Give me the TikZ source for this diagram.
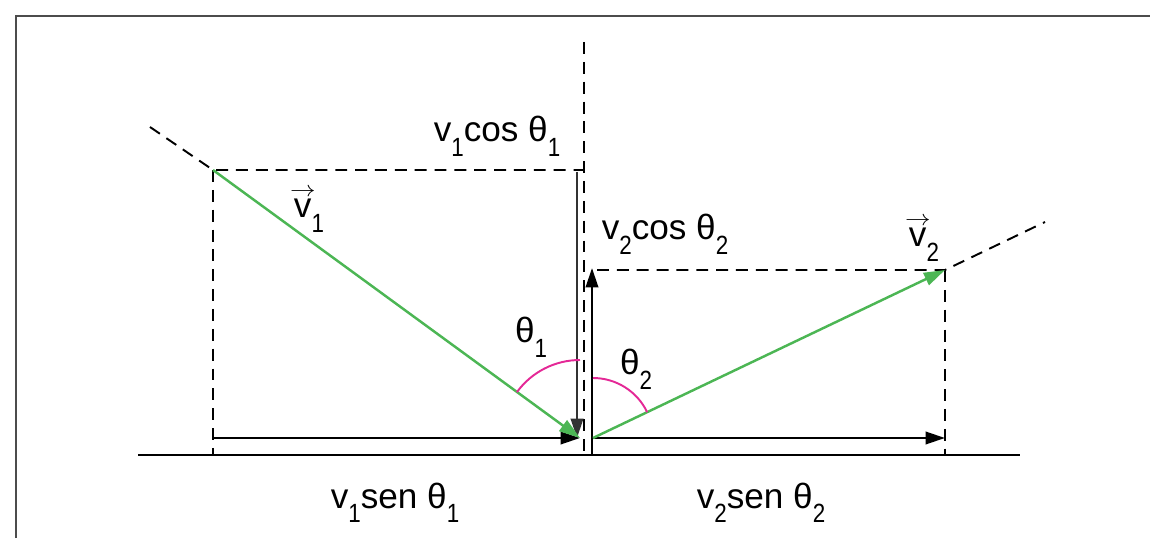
\documentclass[tikz,border=0pt]{standalone}
\usepackage{fontspec}
\setmainfont{Liberation Sans}
\usetikzlibrary{arrows.meta}

\definecolor{vecgreen}{RGB}{76,182,84}
\definecolor{anglemag}{RGB}{228,40,150}
\newcommand{\lo}[1]{\raisebox{-8pt}{\fontsize{15}{16}\selectfont\scalebox{0.85}[1]{#1}}}
\newcommand{\vecv}{\ooalign{v\cr\hidewidth\raisebox{0.6em}{\scalebox{0.7}[0.6]{$\rightarrow$}}\hidewidth\cr}}

\begin{document}
\begin{tikzpicture}[x=0.02cm,y=0.02cm,
  dashln/.style={line width=1.1pt,dash pattern=on 6.8pt off 4.5pt},
  comparr/.style={line width=1.5pt,-{Triangle[length=11pt,width=7pt]}},
  vecarr/.style={vecgreen,line width=1.4pt,-{Triangle[length=12pt,width=7.5pt]}},
  angarc/.style={anglemag,line width=1.1pt},
  lbl/.style={inner sep=0pt,anchor=base,font=\fontsize{20}{22}\selectfont}]
\useasboundingbox (0,0) rectangle (1150,538);
% frame
\draw[black!70,line width=1.7pt] (16,0) -- (16,522) -- (1150,522);

% points
\coordinate (o1) at (580,100);
\coordinate (o2) at (593,100);
\coordinate (p1) at (213,368);
\coordinate (p2) at (945,268);
\coordinate (e1) at (150,411);
\coordinate (e2) at (1045,316);
\coordinate (ntop) at (584,496);
\coordinate (nbot) at (584,83);
\coordinate (bl) at (138,83);
\coordinate (br) at (1020,83);
\coordinate (f1) at (213,83);
\coordinate (f2) at (945,83);
\coordinate (h1) at (213,100);
\coordinate (c1) at (577,366);
\coordinate (c1b) at (577,100);
\coordinate (c2) at (592,83);
\coordinate (c2t) at (592,270);
\coordinate (t1) at (584,368);
\coordinate (t2) at (597,268);

% dashed construction lines
\draw[dashln] (ntop) -- (nbot);
\draw[dashln] (e1) -- (p1) -- (t1);
\draw[dashln] (p1) -- (f1);
\draw[dashln] (t2) -- (p2) -- (e2);
\draw[dashln] (p2) -- (f2);

% surface
\draw[line width=1.3pt] (bl) -- (br);

% components
\draw[comparr] (h1) -- (o1);
\draw[comparr] (o2) -- (p2 |- o2);
\draw[comparr,black!80] (c1) -- (c1b);
\draw[comparr] (c2) -- (c2t);

% velocities
\draw[vecarr] (p1) -- (o1);
\draw[vecarr] (o2) -- (p2);

% angles
\draw[angarc] (o1) ++(90:78) arc[start angle=90,end angle=144,radius=78];
\draw[angarc] (o2) ++(25.5:60) arc[start angle=25.5,end angle=90,radius=60];

% labels
\node[lbl] (lc1) at (497,396) {v\lo{1}cos θ\lo{1}};
\node[lbl] (lc2) at (665,298) {v\lo{2}cos θ\lo{2}};
\node[lbl] (lt1) at (531,195) {θ\lo{1}};
\node[lbl] (lt2) at (636,163) {θ\lo{2}};
\node[lbl] (lv1) at (309,320) {\vecv\lo{1}};
\node[lbl] (lv2) at (924,291) {\vecv\lo{2}};
\node[lbl] (ls1) at (395,30) {v\lo{1}sen θ\lo{1}};
\node[lbl] (ls2) at (761,30) {v\lo{2}sen θ\lo{2}};
\end{tikzpicture}
\end{document}
